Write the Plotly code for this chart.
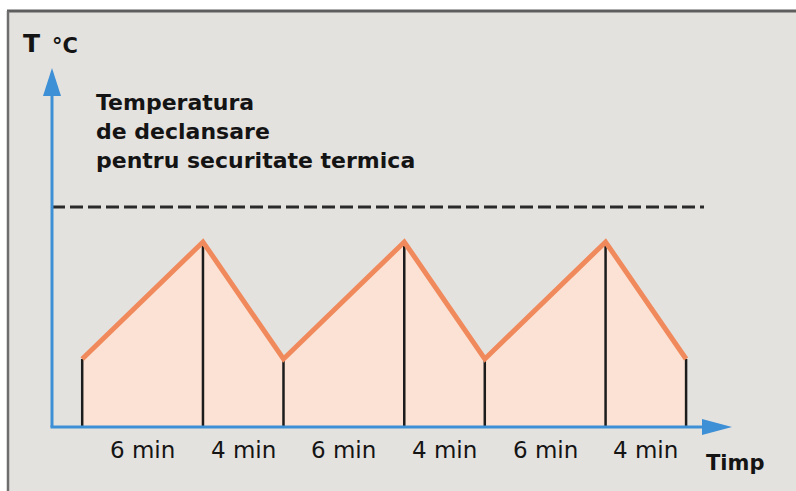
import plotly.graph_objects as go

# ---------------- data ----------------
durations = [6, 4, 6, 4, 6, 4]                       # minutes per phase
duration_labels = ["6 min", "4 min", "6 min", "4 min", "6 min", "4 min"]
start_time = 1.5                                     # min, first point
vertex_temps = [34, 92.5, 34, 92.5, 34, 92.5, 34]     # temperature at each vertex
trip_temp = 110                                      # safety trip temperature
note_lines = ["Temperatura", "de declansare", "pentru securitate termica"]
y_title = "T"
y_unit = "°C"
x_title = "Timp"

# ---------------- derived ----------------
times = [start_time]
for d in durations:
    times.append(times[-1] + d)
mids = [(a + b) / 2 for a, b in zip(times[:-1], times[1:])]

# ---------------- layout constants ----------------
W, H = 796, 491
OX, OY = 52, 427          # pixel position of axes origin
PX_MIN = 20.13            # pixels per minute
PX_DEG = 2.0              # pixels per temperature unit


def dx(px):
    return (px - OX) / PX_MIN


def dy(py):
    return (OY - py) / PX_DEG


BLUE = "#3d8fd6"
ORANGE = "#f08a5c"
FILL = "#fbe2d4"
FONT = "DejaVu Sans"
TXT = "#141414"

fig = go.Figure()

# filled area under curve
fig.add_trace(go.Scatter(x=times, y=vertex_temps, mode="lines", fill="tozeroy",
                         fillcolor=FILL, line=dict(width=0, color=FILL),
                         hoverinfo="skip", showlegend=False))

# vertical black lines
vx, vy = [], []
for t, v in zip(times, vertex_temps):
    vx += [t, t, None]
    vy += [0, v, None]
fig.add_trace(go.Scatter(x=vx, y=vy, mode="lines",
                         line=dict(color="#1c1c1c", width=2.5),
                         hoverinfo="skip", showlegend=False))

# orange temperature line
fig.add_trace(go.Scatter(x=times, y=vertex_temps, mode="lines",
                         line=dict(color=ORANGE, width=5),
                         hoverinfo="skip", showlegend=False))

# dashed trip line
fig.add_trace(go.Scatter(x=[0, dx(704)], y=[trip_temp, trip_temp], mode="lines",
                         line=dict(color="#2a2a2a", width=3, dash="13px,5px"),
                         hoverinfo="skip", showlegend=False))

# axes lines
fig.add_trace(go.Scatter(x=[0, 0], y=[0, dy(94)], mode="lines",
                         line=dict(color=BLUE, width=3), hoverinfo="skip", showlegend=False))
fig.add_trace(go.Scatter(x=[dx(50.5), dx(704)], y=[0, 0], mode="lines",
                         line=dict(color=BLUE, width=3), hoverinfo="skip", showlegend=False))

# arrow heads
fig.add_trace(go.Scatter(x=[dx(OX - 9), dx(OX + 9), 0, dx(OX - 9)],
                         y=[dy(96), dy(96), dy(68), dy(96)],
                         mode="lines", fill="toself", fillcolor=BLUE,
                         line=dict(width=0, color=BLUE), hoverinfo="skip", showlegend=False))
fig.add_trace(go.Scatter(x=[dx(702), dx(702), dx(732), dx(702)],
                         y=[dy(OY - 8), dy(OY + 8), 0, dy(OY - 8)],
                         mode="lines", fill="toself", fillcolor=BLUE,
                         line=dict(width=0, color=BLUE), hoverinfo="skip", showlegend=False))

annotations = []
# duration labels
for m, lab in zip(mids, duration_labels):
    annotations.append(dict(x=m, y=dy(450), text=lab, showarrow=False,
                            xanchor="center", yanchor="middle",
                            font=dict(family=FONT, size=23, color=TXT)))
# axis titles
annotations.append(dict(x=dx(21), y=dy(43), text=f"<b>{y_title}</b>", showarrow=False,
                        xanchor="left", yanchor="middle",
                        font=dict(family=FONT, size=25, color=TXT)))
annotations.append(dict(x=dx(50), y=dy(46), text=f"<b>{y_unit}</b>", showarrow=False,
                        xanchor="left", yanchor="middle",
                        font=dict(family=FONT, size=21, color=TXT)))
annotations.append(dict(x=dx(704), y=dy(463), text=f"<b>{x_title}</b>", showarrow=False,
                        xanchor="left", yanchor="middle",
                        font=dict(family=FONT, size=21, color=TXT)))
# note text
for i, line in enumerate(note_lines):
    annotations.append(dict(x=dx(94), y=dy(102 + 29 * i), text=f"<b>{line}</b>",
                            showarrow=False, xanchor="left", yanchor="middle",
                            font=dict(family=FONT, size=22, color=TXT)))

shapes = [
    dict(type="rect", xref="paper", yref="paper", x0=8 / W, x1=1, y0=0, y1=1 - 11 / H,
         fillcolor="#e4e2df", line=dict(width=0), layer="below"),
    dict(type="line", xref="paper", yref="paper", x0=7 / W, x1=1, y0=1 - 11 / H, y1=1 - 11 / H,
         line=dict(color="#5e5e5e", width=3), layer="below"),
    dict(type="line", xref="paper", yref="paper", x0=8 / W, x1=8 / W, y0=0, y1=1 - 11 / H,
         line=dict(color="#6e6e6e", width=2.5), layer="below"),
]

fig.update_layout(
    width=W, height=H,
    margin=dict(l=0, r=0, t=0, b=0),
    paper_bgcolor="white", plot_bgcolor="rgba(0,0,0,0)",
    xaxis=dict(range=[dx(0), dx(W)], visible=False, fixedrange=True),
    yaxis=dict(range=[dy(H), dy(0)], visible=False, fixedrange=True),
    annotations=annotations, shapes=shapes, showlegend=False,
)

fig.write_html("out.html",
               config={"displayModeBar": False, "staticPlot": True},
               post_script="document.body.style.margin='0';document.body.style.overflow='hidden';")
